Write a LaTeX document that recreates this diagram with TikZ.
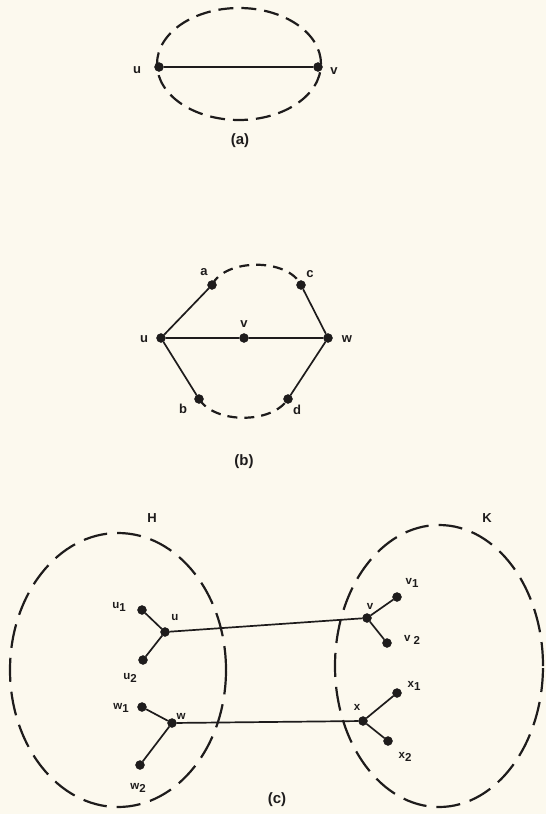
\documentclass[tikz,border=0pt]{standalone}
\usepackage{fontspec}
\setmainfont{Liberation Sans}
\definecolor{paper}{RGB}{252,249,238}
\definecolor{ink}{RGB}{30,28,28}
\begin{document}
\begin{tikzpicture}[x=1pt,y=-1pt,
  dot/.style={circle,fill=ink,draw=ink,inner sep=0pt,minimum size=9pt},
  edge/.style={draw=ink,line width=1.7pt},
  dashA/.style={draw=ink,line width=2.2pt,dash pattern=on 15pt off 8pt},
  dashB/.style={draw=ink,line width=2.2pt,dash pattern=on 10pt off 7pt},
  dashC/.style={draw=ink,line width=2.2pt,dash pattern=on 24pt off 10pt},
  lab/.style={text=ink,inner sep=0pt,font=\fontsize{13}{15}\selectfont\bfseries},
  captxt/.style={text=ink,inner sep=0pt,font=\fontsize{15}{17}\selectfont\bfseries},
  labc/.style={text=ink,inner sep=0pt,font=\fontsize{11.5}{13}\selectfont\bfseries}]
\fill[paper] (0,0) rectangle (546,814);
\useasboundingbox (0,0) rectangle (546,814);

% ---------- (a)
\draw[dashA] (239,64) ellipse [x radius=82pt, y radius=56pt];
\node[dot] (au) at (159,67) {};
\node[dot] (av) at (318,67) {};
\draw[edge] (au) -- (av);
\node[lab] (aul) at (137,70) {u};
\node[lab] (avl) at (334,71) {v};
\node[captxt] (acap) at (240,141) {(a)};

% ---------- (b)
\node[dot] (bu) at (161,338) {};
\node[dot] (bv) at (244,338) {};
\node[dot] (bw) at (328,338) {};
\node[dot] (ba) at (212,285) {};
\node[dot] (bc) at (301,285) {};
\node[dot] (bb) at (199,399) {};
\node[dot] (bd) at (288,399) {};
\draw[edge] (bu) -- (bv) -- (bw);
\draw[edge] (bu) -- (ba);
\draw[edge] (bu) -- (bb);
\draw[edge] (bw) -- (bc);
\draw[edge] (bw) -- (bd);
\draw[dashB] (ba.center) .. controls (225,258) and (288,258) .. (bc.center);
\draw[dashB] (bb.center) .. controls (215,424) and (272,424) .. (bd.center);
\node[lab] (bal) at (204,272) {a};
\node[lab] (bcl) at (310,274) {c};
\node[lab] (bvl) at (244,324) {v};
\node[lab] (bul) at (144,339) {u};
\node[lab] (bwl) at (347,339) {w};
\node[lab] (bbl) at (183,409) {b};
\node[lab] (bdl) at (297,410) {d};
\node[captxt] (bcap) at (244,462) {(b)};

% ---------- (c)
\draw[dashC] (118,670) ellipse [x radius=108pt, y radius=137pt];
\draw[dashC] (439,666) ellipse [x radius=104pt, y radius=141pt];
\node[lab] (hl) at (152,518) {H};
\node[lab] (kl) at (487,518) {K};

\node[dot] (cu) at (165,632) {};
\node[dot] (cu1) at (142,610) {};
\node[dot] (cu2) at (143,660) {};
\node[dot] (cw) at (172,723) {};
\node[dot] (cw1) at (142,707) {};
\node[dot] (cw2) at (140,765) {};
\node[dot] (cv) at (367,618) {};
\node[dot] (cv1) at (397,597) {};
\node[dot] (cv2) at (387,643) {};
\node[dot] (cx) at (363,721) {};
\node[dot] (cx1) at (397,693) {};
\node[dot] (cx2) at (388,741) {};
\draw[edge] (cu) -- (cu1);
\draw[edge] (cu) -- (cu2);
\draw[edge] (cw) -- (cw1);
\draw[edge] (cw) -- (cw2);
\draw[edge] (cv) -- (cv1);
\draw[edge] (cv) -- (cv2);
\draw[edge] (cx) -- (cx1);
\draw[edge] (cx) -- (cx2);
\draw[edge] (cu) -- (cv);
\draw[edge] (cw) -- (cx);

\node[labc] (cul) at (175,618) {u};
\node[labc] (cu1l) at (119,607) {u\raisebox{-3pt}{1}};
\node[labc] (cu2l) at (130,678) {u\raisebox{-3pt}{2}};
\node[labc] (cwl) at (181,716) {w};
\node[labc] (cw1l) at (121,708) {w\raisebox{-3pt}{1}};
\node[labc] (cw2l) at (138,788) {w\raisebox{-3pt}{2}};
\node[labc] (cvl) at (370,606) {v};
\node[labc] (cv1l) at (412,583) {v\raisebox{-3pt}{1}};
\node[labc] (cv2l) at (412,640) {v\raisebox{-3pt}{ 2}};
\node[labc] (cxl) at (357,707) {x};
\node[labc] (cx1l) at (414,686) {x\raisebox{-3pt}{1}};
\node[labc] (cx2l) at (405,757) {x\raisebox{-3pt}{2}};
\node[captxt] (ccap) at (277,800) {(c)};
\end{tikzpicture}
\end{document}
